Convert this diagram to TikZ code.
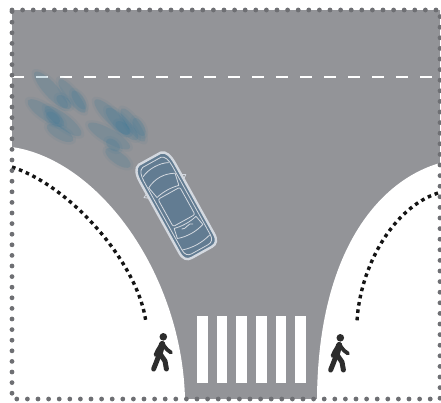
\documentclass[tikz,border=0pt]{standalone}
\definecolor{road}{RGB}{147,148,152}
\definecolor{edgedot}{RGB}{110,111,115}
\definecolor{carbody}{RGB}{98,124,146}
\definecolor{carline}{RGB}{212,217,224}
\definecolor{ghostc}{RGB}{48,118,150}
\definecolor{walkcol}{RGB}{45,45,45}
\definecolor{kerb}{RGB}{20,20,20}
\tikzset{
  frame/.style={edgedot, line width=4.8pt, line cap=round, dash pattern=on 0pt off 10.6pt},
  laneline/.style={white, line width=2pt, dash pattern=on 12pt off 12pt},
  pathline/.style={kerb, line width=3.4pt, dash pattern=on 3.6pt off 3.8pt},
  stripe/.style={fill=white},
  ghost/.style={fill=ghostc, opacity=0.17},
  ghosthalo/.style={fill=ghostc, opacity=0.07},
  carthin/.style={carline, line width=0.8pt, line join=round},
  walker/.pic={
    \fill[walkcol] (12.3,3.8) circle (3.8);
    \draw[walkcol, line width=6.2pt, line cap=round] (11.2,11) -- (8.6,20.5);
    \draw[walkcol, line width=5pt, line cap=round, line join=round] (8.6,20.5) -- (5.6,28.5) -- (2.6,36);
    \draw[walkcol, line width=5pt, line cap=round, line join=round] (8.8,20.5) -- (14,28) -- (15.4,36);
    \draw[walkcol, line width=3.8pt, line cap=round, line join=round] (11.5,11) -- (16,16.5) -- (20,19.5);
    \draw[walkcol, line width=3.8pt, line cap=round, line join=round] (10,12) -- (6.5,17.5) -- (4.5,22);
  }
}
\begin{document}
\begin{tikzpicture}[x=1pt,y=-1pt]
\useasboundingbox (0,0) rectangle (441,402);

% paved area
\fill[road] (12,10) rectangle (440,399);
% pavement corners
\fill[white] (12,147) .. controls (100,160) and (182,275) .. (185,399) -- (12,399) -- cycle;
\fill[white] (440,163) .. controls (380,180) and (318,250) .. (317,399) -- (440,399) -- cycle;

% centre lane marking
\draw[laneline] (12,77) -- (440,77);

% zebra crossing
\foreach \x in {197,216.8,236.4,256,275.6,295.2}
  \fill[stripe] (\x,316) rectangle ++(10.5,67);

% kerb-side walking paths
\draw[pathline] (12,167) .. controls (75,188) and (140,268) .. (146,323);
\draw[pathline] (438,193) .. controls (392,208) and (360,268) .. (357,321);

% motion trail of the car
\foreach \cx/\cy/\rx/\ry/\a in {
  51/90/24/7/-48, 46/113/22/7/-35, 63/121/23/7/-38, 72/96/21/6/-52,
  60/133/15/6/-30, 79/100/11/5/-55, 64/102/9/5/-40, 53/118/8/5/-40,
  112/117/24/7/-45, 109/136/24/7/-30, 122/124/22/7/-45, 133/125/20/6/-55,
  118/158/15/6/-35, 139/127/10/5/-60, 123/128/9/5/-40, 113/145/8/5/-40}
  {
  \fill[ghosthalo, rotate around={\a:(\cx,\cy)}] (\cx,\cy) ellipse [x radius=\rx+3, y radius=\ry+2.5];
  \fill[ghost, rotate around={\a:(\cx,\cy)}] (\cx,\cy) ellipse [x radius=\rx, y radius=\ry];
  }

% car seen from above
\begin{scope}[shift={(176,206)}, rotate=29, scale=1.04]
  \draw[carline, line width=2.4pt, fill=carbody, line join=round]
    (-12,-52) .. controls (-17,-51) and (-19,-45) .. (-19,-36) -- (-19,41)
    .. controls (-19,48) and (-16,51) .. (-11,51) -- (11,51)
    .. controls (16,51) and (19,48) .. (19,41) -- (19,-36)
    .. controls (19,-45) and (17,-51) .. (12,-52) -- cycle;
  \draw[carthin]
    (-10,-48) .. controls (-14,-47) and (-15.5,-42) .. (-15.5,-35) -- (-15.5,40)
    .. controls (-15.5,45) and (-13,47.5) .. (-9,47.5) -- (9,47.5)
    .. controls (13,47.5) and (15.5,45) .. (15.5,40) -- (15.5,-35)
    .. controls (15.5,-42) and (14,-47) .. (10,-48) -- cycle;
  \draw[carthin] (-14,-40) .. controls (-6,-44) and (6,-44) .. (14,-40);
  \draw[carthin] (-14.5,-28) .. controls (-5,-33) and (5,-33) .. (14.5,-28)
    -- (12,-16) .. controls (4,-18) and (-4,-18) .. (-12,-16) -- cycle;
  \draw[carthin, rounded corners=2pt] (-12,-14) rectangle (12,16);
  \draw[carthin] (-12,18) .. controls (-4,20) and (4,20) .. (12,18)
    -- (14,28) .. controls (5,31) and (-5,31) .. (-14,28) -- cycle;
  \draw[carthin] (-6,22) .. controls (-2,25) and (2,19) .. (6,23);
  \draw[carthin] (-15,40) .. controls (-5,43) and (5,43) .. (15,40);
  \draw[carthin] (-19,-24) -- (-23,-22) -- (-19,-19);
  \draw[carthin] (19,-24) -- (23,-22) -- (19,-19);
\end{scope}

% pedestrians
\pic at (151,333) {walker};
\pic at (328,334) {walker};

% site boundary
\draw[frame] (12,10) -- (440,10) -- (440,399) -- (12,399) -- cycle;
\end{tikzpicture}
\end{document}
